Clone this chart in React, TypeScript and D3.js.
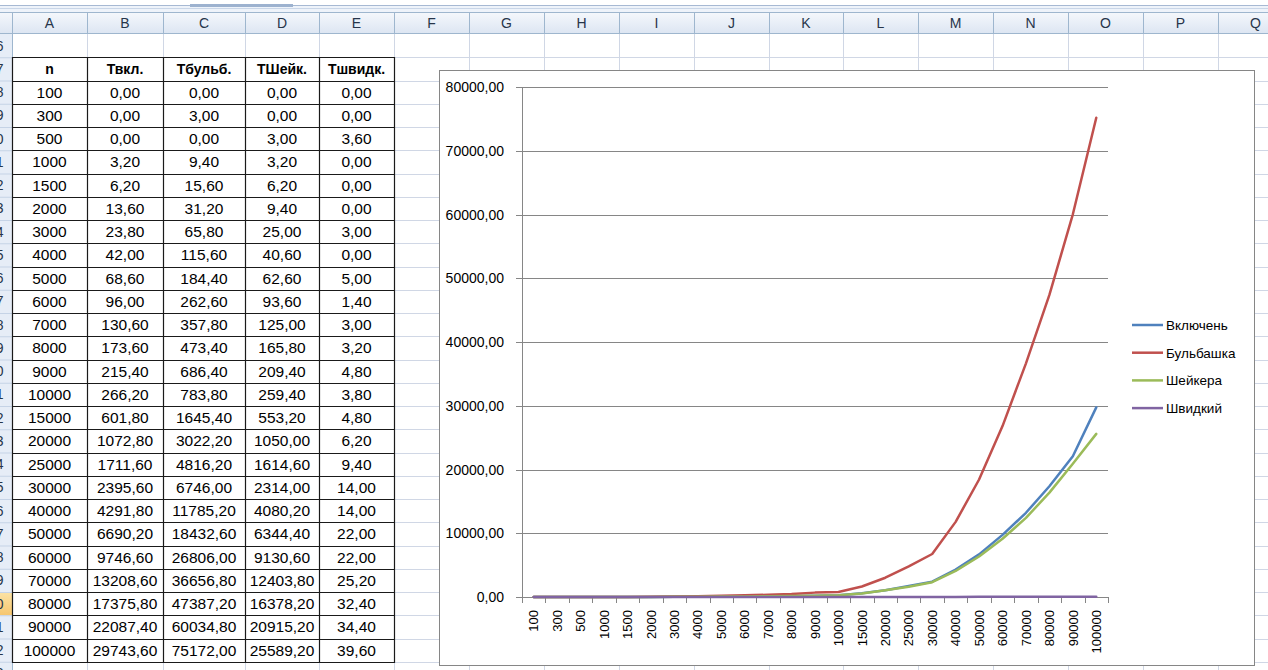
import React from "react";
import * as d3 from "d3";

const sizes = ["100","300","500","1000","1500","2000","3000","4000","5000","6000","7000","8000","9000","10000","15000","20000","25000","30000","40000","50000","60000","70000","80000","90000","100000"];
const tIns = [0,0,0,3.2,6.2,13.6,23.8,42,68.6,96,130.6,173.6,215.4,266.2,601.8,1072.8,1711.6,2395.6,4291.8,6690.2,9746.6,13208.6,17375.8,22087.4,29743.6];
const tBub = [0,3,0,9.4,15.6,31.2,65.8,115.6,184.4,262.6,357.8,473.4,686.4,783.8,1645.4,3022.2,4816.2,6746,11785.2,18432.6,26806,36656.8,47387.2,60034.8,75172];
const tShk = [0,0,3,3.2,6.2,9.4,25,40.6,62.6,93.6,125,165.8,209.4,259.4,553.2,1050,1614.6,2314,4080.2,6344.4,9130.6,12403.8,16378.2,20915.2,25589.2];
const tQck = [0,0,3.6,0,0,0,3,0,5,1.4,3,3.2,4.8,3.8,4.8,6.2,9.4,14,14,22,22,25.2,32.4,34.4,39.6];

const tableHeaders = ["n", "Твкл.", "Тбульб.", "ТШейк.", "Тшвидк."];
const seriesNames = ["Включень", "Бульбашка", "Шейкера", "Швидкий"];
const seriesColors = ["#4F81BD", "#C0504D", "#9BBB59", "#8064A2"];
const colLetters = ["A","B","C","D","E","F","G","H","I","J","K","L","M","N","O","P","Q"];
const colEdges = [12, 87, 163, 245, 319, 394, 469, 544, 619, 694, 769, 843, 918, 993, 1068, 1143, 1218, 1293];
const yTicks = [0,10000,20000,30000,40000,50000,60000,70000,80000];

const FONT = "'Liberation Sans', Arial, sans-serif";
const fmt = (v: number) => d3.format(".2f")(v).replace(".", ",");

export default function App() {
  const W = 1268, H = 670;
  const rowTop = 34, rowH = 23.25, firstRow = 6;
  const rowY = (r: number) => rowTop + (r - firstRow) * rowH;
  const series = [tIns, tBub, tShk, tQck];

  // chart geometry
  const cL = 439, cT = 70, cR = 1254, cB = 665;
  const pL = 522, pR = 1108, pT = 87, pB = 597;
  const x = d3.scaleBand<string>().domain(sizes).range([pL, pR]).padding(0);
  const y = d3.scaleLinear().domain([0, 80000]).range([pB, pT]);
  const line = d3.line<number>()
    .x((_, i) => (x(sizes[i]) as number) + x.bandwidth() / 2)
    .y((v) => y(v));

  const gridRows = d3.range(firstRow, 34);
  const tableRows = sizes.map((s, i) => [s, fmt(tIns[i]), fmt(tBub[i]), fmt(tShk[i]), fmt(tQck[i])]);

  return (
    <svg width={W} height={H} style={{ position: "absolute", left: 0, top: 0, background: "#fff" }}
      fontFamily={FONT}>
      <defs>
        <linearGradient id="hdr" x1="0" y1="0" x2="0" y2="1">
          <stop offset="0" stopColor="#F5F8FC" />
          <stop offset="1" stopColor="#DCE5F2" />
        </linearGradient>
        <linearGradient id="sel" x1="0" y1="0" x2="0" y2="1">
          <stop offset="0" stopColor="#FBE3A6" />
          <stop offset="1" stopColor="#F6C66F" />
        </linearGradient>
        <clipPath id="rowhdr"><rect x={0} y={34} width={12} height={H} /></clipPath>
      </defs>

      {/* top strip */}
      <rect x={0} y={0} width={W} height={12} fill="#EEF3FA" />
      <rect x={0} y={0} width={W} height={5} fill="#FFFFFF" />
      <line x1={0} x2={W} y1={5.5} y2={5.5} stroke="#A7B9D3" />
      <line x1={0} x2={W} y1={8.5} y2={8.5} stroke="#C9D6E8" />
      <rect x={190} y={4} width={103} height={3} fill="#9DB2CF" />

      {/* column headers */}
      <rect x={0} y={12} width={W} height={22} fill="url(#hdr)" />
      <line x1={0} x2={W} y1={12.5} y2={12.5} stroke="#9EB6CE" />
      <line x1={0} x2={W} y1={33.5} y2={33.5} stroke="#9EB6CE" />
      {colLetters.map((c, i) => (
        <g key={c}>
          <line x1={colEdges[i] + 0.5} x2={colEdges[i] + 0.5} y1={12} y2={34} stroke="#9EB6CE" />
          <text x={(colEdges[i] + colEdges[i + 1]) / 2} y={28} textAnchor="middle" fontSize={14} fill="#27354A">{c}</text>
        </g>
      ))}

      {/* row header */}
      <rect x={0} y={34} width={12} height={H - 34} fill="#E6EDF7" />
      <rect x={0} y={rowY(30)} width={12} height={rowH} fill="url(#sel)" />
      <line x1={12.5} x2={12.5} y1={12} y2={H} stroke="#9EB6CE" />
      <g clipPath="url(#rowhdr)">
        {gridRows.map((r) => (
          <g key={r}>
            <line x1={0} x2={12} y1={rowY(r + 1) + 0.5} y2={rowY(r + 1) + 0.5} stroke="#C5D3E6" />
            <text x={3.5} y={rowY(r) + rowH / 2 + 5} textAnchor="end" fontSize={14} fill="#27354A">{r}</text>
          </g>
        ))}
      </g>

      {/* sheet grid */}
      {gridRows.map((r) => (
        <line key={"h" + r} x1={13} x2={W} y1={Math.round(rowY(r + 1)) + 0.5} y2={Math.round(rowY(r + 1)) + 0.5} stroke="#D0D7E5" />
      ))}
      {colEdges.slice(1).map((e, i) => (
        <line key={"v" + i} x1={e + 0.5} x2={e + 0.5} y1={34} y2={H} stroke="#D0D7E5" />
      ))}

      {/* table */}
      <rect x={12} y={rowY(7)} width={394 - 12} height={rowY(33) - rowY(7)} fill="#fff" />
      {[tableHeaders, ...tableRows].map((row, ri) => (
        <g key={"r" + ri}>
          {row.map((cell, ci) => (
            <text key={ci} x={(colEdges[ci] + colEdges[ci + 1]) / 2} y={rowY(7 + ri) + rowH / 2 + 5.5}
              textAnchor="middle" fontSize={ri === 0 ? 14 : 15.5} fontWeight={ri === 0 ? "bold" : "normal"} fill="#000">{cell}</text>
          ))}
        </g>
      ))}
      {d3.range(7, 34).map((r) => (
        <line key={"tb" + r} x1={12} x2={394} y1={Math.round(rowY(r)) + 0.5} y2={Math.round(rowY(r)) + 0.5} stroke="#1A1A1A" strokeWidth={1.2} />
      ))}
      {colEdges.slice(0, 6).map((e, i) => (
        <line key={"tv" + i} x1={e + 0.5} x2={e + 0.5} y1={Math.round(rowY(7))} y2={Math.round(rowY(33)) + 1} stroke="#1A1A1A" strokeWidth={1.2} />
      ))}

      {/* chart */}
      <rect x={cL + 0.5} y={cT + 0.5} width={cR - cL} height={cB - cT} fill="#fff" stroke="#868686" />
      {yTicks.map((t) => (
        <g key={"yt" + t}>
          <line x1={pL - 6} x2={t === 0 ? pL : pR} y1={Math.round(y(t)) + 0.5} y2={Math.round(y(t)) + 0.5} stroke="#868686" />
          <text x={504} y={y(t) + 5} textAnchor="end" fontSize={14} fill="#000">{fmt(t)}</text>
        </g>
      ))}
      <line x1={pL + 0.5} x2={pL + 0.5} y1={pT} y2={pB} stroke="#868686" />
      <line x1={pL} x2={pR} y1={pB + 0.5} y2={pB + 0.5} stroke="#868686" />
      {d3.range(0, sizes.length + 1).map((i) => {
        const xx = Math.round(pL + i * x.bandwidth()) + 0.5;
        return <line key={"xt" + i} x1={xx} x2={xx} y1={pB} y2={pB + 6} stroke="#868686" />;
      })}
      {sizes.map((s) => {
        const cx = (x(s) as number) + x.bandwidth() / 2;
        return (
          <text key={"xl" + s} transform={`translate(${cx},610) rotate(-90)`} dy="0.36em" textAnchor="end" fontSize={13} fill="#000">{s}</text>
        );
      })}
      {series.map((vals, i) => (
        <path key={"s" + i} d={line(vals) as string} fill="none" stroke={seriesColors[i]} strokeWidth={2.5} strokeLinejoin="round" strokeLinecap="round" />
      ))}

      {/* legend */}
      {seriesNames.map((nm, i) => {
        const ly = 325 + i * 27.7;
        return (
          <g key={"lg" + i}>
            <line x1={1132} x2={1163} y1={ly} y2={ly} stroke={seriesColors[i]} strokeWidth={2.5} />
            <text x={1166} y={ly + 5} fontSize={13.5} fill="#000">{nm}</text>
          </g>
        );
      })}
    </svg>
  );
}
